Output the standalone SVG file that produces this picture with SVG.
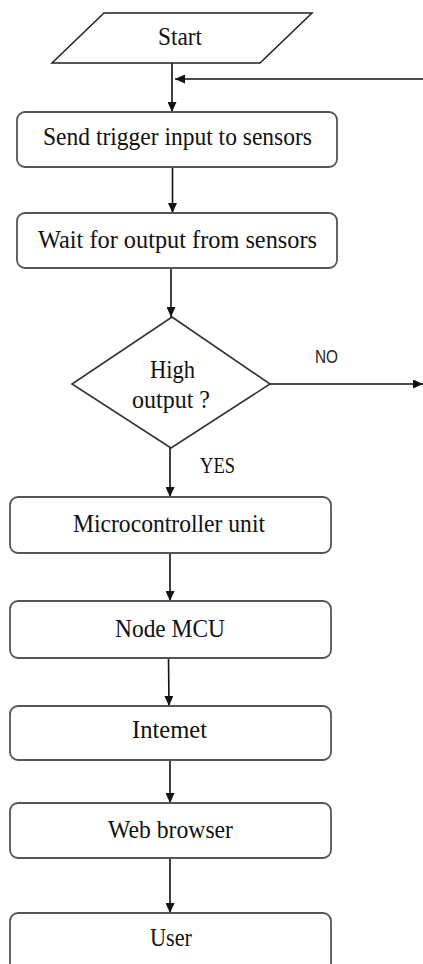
<svg xmlns="http://www.w3.org/2000/svg" width="423" height="964" viewBox="0 0 423 964">
<style>
.box{fill:#fff;stroke:#555;stroke-width:1.8}
.t{font-family:"Liberation Serif","Times New Roman",serif;font-size:25.5px;fill:#111;text-anchor:middle}
.lbl{font-family:"Liberation Serif","Times New Roman",serif;font-size:23px;fill:#111}
.no{font-family:"Liberation Sans",Arial,sans-serif;font-size:17.5px;fill:#222}
.c{stroke:#111;stroke-width:1.6;fill:none;marker-end:url(#ah)}
</style>
<defs>
<marker id="ah" markerUnits="userSpaceOnUse" markerWidth="10" markerHeight="9" refX="10" refY="4.5" orient="auto">
<path d="M0,0 L10,4.5 L0,9 z" fill="#111"/>
</marker>
</defs>
<rect width="423" height="964" fill="#fff"/>
<g id="connectors">
<line class="c" x1="172" y1="63" x2="172" y2="112"/>
<line class="c" x1="423" y1="79" x2="175" y2="79"/>
<line class="c" x1="172.5" y1="167" x2="172.5" y2="213"/>
<line class="c" x1="171" y1="268" x2="171" y2="317"/>
<line class="c" x1="270" y1="384" x2="423" y2="384"/>
<line class="c" x1="170" y1="448" x2="170" y2="497"/>
<line class="c" x1="170" y1="553" x2="170" y2="601"/>
<line class="c" x1="168.5" y1="658" x2="169" y2="706"/>
<line class="c" x1="170" y1="760" x2="170" y2="803"/>
<line class="c" x1="170" y1="858" x2="170" y2="913"/>
<text class="no" x="315" y="363" textLength="23" lengthAdjust="spacingAndGlyphs">NO</text>
<text class="lbl" x="200" y="473" textLength="35" lengthAdjust="spacingAndGlyphs">YES</text>
</g>
<g id="start">
<polygon class="box" points="104,13 312,13 260,63 52,63" style="stroke:#222;stroke-width:1.5"/>
<text class="t" x="180" y="45" textLength="44" lengthAdjust="spacingAndGlyphs">Start</text>
</g>
<g id="trigger">
<rect class="box" x="17" y="112" width="320" height="55" rx="8"/>
<text class="t" x="177.5" y="145" textLength="269" lengthAdjust="spacingAndGlyphs">Send trigger input to sensors</text>
</g>
<g id="wait">
<rect class="box" x="17" y="213" width="320" height="55" rx="8"/>
<text class="t" x="177.5" y="248" textLength="279" lengthAdjust="spacingAndGlyphs">Wait for output from sensors</text>
</g>
<g id="decision">
<polygon class="box" points="172,317 270,384 171,448 72,384" style="stroke:#333;stroke-width:1.6"/>
<text class="t" x="172.5" y="378" textLength="45" lengthAdjust="spacingAndGlyphs">High</text>
<text class="t" x="171" y="408" textLength="78" lengthAdjust="spacingAndGlyphs">output ?</text>
</g>
<g id="mcu">
<rect class="box" x="10" y="497" width="321" height="56" rx="8"/>
<text class="t" x="169" y="532" textLength="192" lengthAdjust="spacingAndGlyphs">Microcontroller unit</text>
</g>
<g id="nodemcu">
<rect class="box" x="10" y="601" width="321" height="57" rx="8"/>
<text class="t" x="170" y="637" textLength="110" lengthAdjust="spacingAndGlyphs">Node MCU</text>
</g>
<g id="internet">
<rect class="box" x="10" y="706" width="321" height="54" rx="8"/>
<text class="t" x="169.5" y="738" textLength="75" lengthAdjust="spacingAndGlyphs">Intemet</text>
</g>
<g id="browser">
<rect class="box" x="10" y="803" width="321" height="55" rx="8"/>
<text class="t" x="170.5" y="838" textLength="125" lengthAdjust="spacingAndGlyphs">Web browser</text>
</g>
<g id="user">
<rect class="box" x="10" y="913" width="321" height="60" rx="8"/>
<text class="t" x="171" y="946" textLength="42" lengthAdjust="spacingAndGlyphs">User</text>
</g>
</svg>
